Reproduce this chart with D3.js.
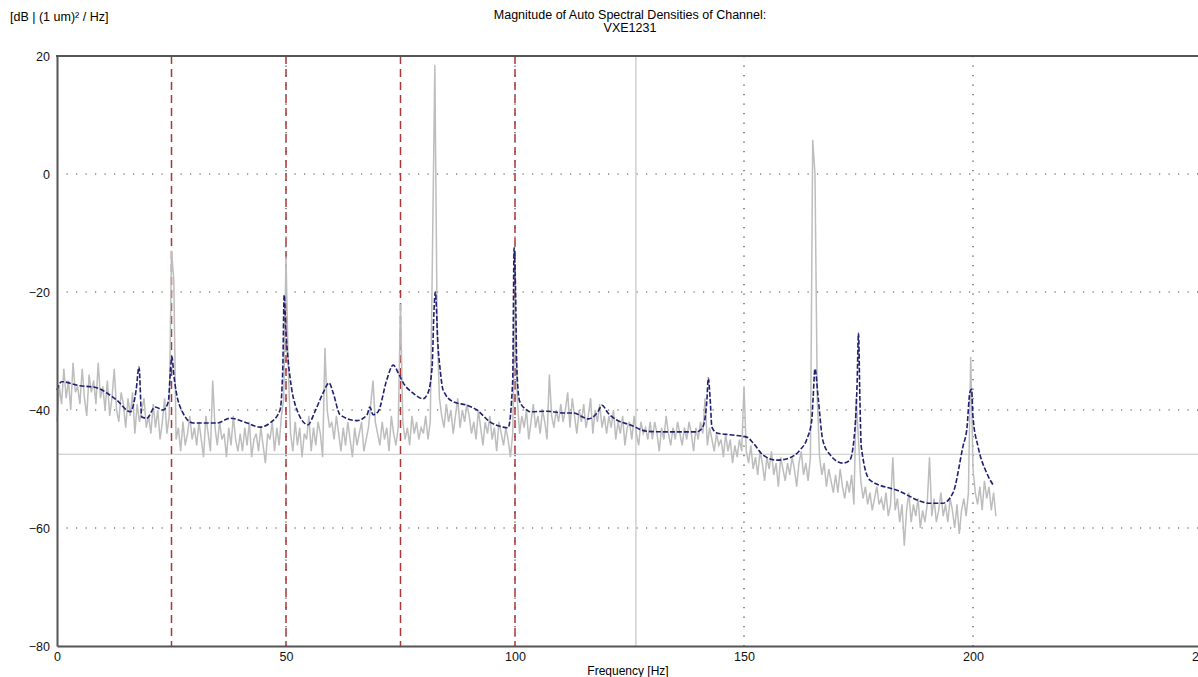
<!DOCTYPE html>
<html>
<head>
<meta charset="utf-8">
<script src="https://cdnjs.cloudflare.com/ajax/libs/d3/7.8.5/d3.min.js"></script>
<style>
  body { margin: 0; background: #fff; }
  svg { display: block; font-family: "Liberation Sans", Arial, sans-serif; }
</style>
</head>
<body>
<div class="spectrum-chart"></div>
<script>
// Tick labels
var xTicks = [0, 50, 100, 150, 200, 250];
var yTicks = [20, 0, -20, -40, -60, -80];
var gridDb = [0, -20, -40, -60];
var gridFreq = [50, 100, 150, 200, 250];

// Harmonic markers (red dashed) and cursor position (grey)
var harmonicFreq = [25, 50, 75, 100];
var cursorFreq = 126.4;
var cursorDb = -47.5;

// Measured spectrum (grey), sampled every 0.5 Hz from 0 Hz
var freqStep = 0.5;
var measuredDb = [].concat(
  [-42, -36, -39, -33, -38, -35, -40, -32, -37, -36, -39, -33, -38, -41, -34, -37, -35, -39, -32, -38],
  [-36, -40, -35, -41, -38, -33, -40, -42, -37, -39, -43, -38, -41, -37, -44, -39, -42, -40, -38, -43],
  [-41, -44, -39, -43, -40, -45, -42, -38, -44, -41, -13, -18, -45, -43, -47, -42, -46, -44, -41, -45],
  [-43, -46, -42, -45, -48, -41, -44, -47, -35, -43, -46, -42, -45, -44, -48, -43, -46, -41, -45, -47],
  [-44, -47, -43, -46, -42, -48, -45, -44, -47, -43, -46, -49, -44, -45, -42, -47, -43, -46, -41, -38],
  [-14, -33, -44, -47, -42, -46, -43, -48, -44, -45, -41, -47, -43, -46, -42, -44, -48, -29.5, -40, -43],
  [-42, -45, -41, -44, -47, -43, -46, -42, -45, -48, -43, -46, -44, -42, -47, -45, -43, -39, -35, -42],
  [-44, -46, -42, -45, -43, -47, -41, -44, -46, -43, -22, -42, -45, -43, -46, -41, -44, -42, -45, -43],
  [-44, -41, -45, -42, -12, 18.5, -26, -38, -41, -43, -39, -42, -40, -44, -41, -38, -43, -40, -42, -39],
  [-41, -44, -42, -45, -40, -43, -46, -42, -44, -41, -45, -43, -47, -42, -44, -46, -43, -45, -48, -44],
  [-21, -38, -44, -41, -43, -40, -45, -42, -39, -43, -41, -44, -40, -42, -45, -34, -41, -43, -40, -42],
  [-39, -42, -40, -37, -43, -38, -41, -44, -40, -42, -39, -43, -41, -38, -44, -40, -42, -39, -43, -41],
  [-44, -41, -43, -40, -45, -42, -44, -41, -46, -43, -42, -45, -41, -44, -46, -42, -44, -43, -45, -42],
  [-45, -42, -44, -47, -43, -45, -41, -44, -46, -43, -45, -42, -44, -46, -43, -45, -42, -44, -47, -43],
  [-45, -42, -44, -38, -46, -43, -45, -47, -44, -46, -45, -48, -44, -47, -45, -49, -46, -48, -45, -47],
  [-36, -47, -49, -46, -50, -48, -51, -47, -49, -52, -48, -50, -47, -51, -49, -53, -48, -50, -52, -49],
  [-51, -48, -50, -53, -49, -47, -51, -49, -52, -48, 5.8, 0, -38, -48, -51, -49, -53, -50, -52, -54],
  [-51, -54, -50, -53, -55, -52, -54, -51, -56, -38, -45, -52, -55, -53, -56, -54, -57, -55, -53, -56],
  [-55, -57, -54, -58, -56, -48, -57, -55, -59, -56, -63, -57, -54, -59, -56, -58, -55, -60, -57, -59],
  [-56, -48, -58, -55, -59, -57, -54, -58, -56, -59, -55, -57, -60, -56, -61, -57, -55, -58, -54, -31],
  [-50, -54, -56, -53, -57, -52, -55, -53, -57, -54, -58]
);

// Fitted spectrum (blue), read at irregular frequencies
var fitFreq = [0, 1, 5, 8, 13, 16, 17.3, 17.9, 18.5, 19.6, 21.4, 23.2, 24.3, 24.8, 25.1, 25.5, 25.8, 27.5, 29.7,
  34.9, 37.8, 41.5, 44.3, 46.5, 48.7, 49.3, 49.6, 50, 50.4, 50.9, 52.4, 54.8, 56.3, 58.1, 59.4, 60.3, 61.8,
  65.5, 67.7, 68.3, 69, 70.1, 72, 73.4, 74.5, 75.6, 77.7, 79.9, 81, 81.9, 82.3, 82.6, 83.2, 83.6, 84.3, 86.5,
  89.5, 91.7, 94.5, 97.4, 98.5, 99.5, 99.8, 100.1, 100.4, 101, 102.6, 103.3, 107, 110.5, 112.7, 116, 118.1,
  119, 120.3, 122.2, 125.1, 128.8, 132.3, 136, 139.7, 141, 141.9, 142.2, 142.6, 143, 144.1, 147, 150.6, 152,
  154.1, 157.2, 160, 162.2, 163.8, 164.8, 165.1, 165.5, 166.2, 167.2, 168.8, 171.6, 173.1, 174.2, 174.7, 175,
  175.3, 175.6, 177.5, 183.4, 190.6, 193.4, 195.6, 197.8, 198.7, 199.3, 199.7, 200, 201.1, 203, 204.4];
var fitDb = [-36.6, -35.2, -35.9, -36.1, -38.3, -40.3, -36.5, -32.7, -41.2, -41.4, -39.5, -40, -38.6, -33, -31, -34, -35.8, -40.5, -42.2,
  -42.2, -41.4, -42.2, -42.9, -42.2, -40, -33, -20.5, -27, -31, -34.6, -40, -42.5, -40.3, -37.1, -35.4, -37.1, -40.8,
  -41.8, -40.8, -39.5, -40.8, -40.3, -34.9, -32.4, -33.7, -35.4, -37.1, -38.1, -37.1, -32.7, -23.4, -20, -29.3, -32.7, -36.6, -38.6,
  -39.2, -40, -42, -42.9, -43, -35, -12.5, -19, -33, -38.5, -40, -40.3, -40.2, -40.5, -40.5, -41.5, -40.3,
  -39.2, -40.5, -41.7, -42.5, -43.6, -43.7, -43.7, -43.7, -42.9, -38.3, -34.6, -38, -42.9, -43.9, -44.2, -44.6, -45.6,
  -47.6, -48.5, -48.1, -46.8, -44.8, -41.7, -37.8, -33, -38, -45.1, -47.6, -49, -48.5, -43.4, -35.4, -27,
  -38, -46.2, -51.9, -53.6, -55.8, -55.8, -54.1, -46.2, -42.9, -37.1, -36.5, -41.2, -46.2, -50.7, -52.7];

drawSpectrum(d3.select(".spectrum-chart"));

function drawSpectrum(divElement) {
  var width = 1198, height = 677;
  // Plot frame; the 250 Hz end runs just past the window
  var margin = { top: 56, left: 57, bottom: 31 };
  var plotRight = 1202;

  var svg = divElement.append("svg")
    .attr("width", width)
    .attr("height", height);

  var xScale = d3.scaleLinear().domain([0, 250]).range([margin.left, plotRight]);
  var yScale = d3.scaleLinear().domain([-80, 20]).range([height - margin.bottom, margin.top]);

  var measured = measuredDb.map((v, i) => ({ f: i * freqStep, db: v }));
  var fitted = fitFreq.map((f, i) => ({ f: f, db: fitDb[i] }));

  // Dotted grid
  svg.append("g").selectAll("line")
    .data(gridDb)
    .enter().append("line")
    .attr("x1", margin.left).attr("x2", width)
    .attr("y1", d => yScale(d)).attr("y2", d => yScale(d))
    .attr("stroke", "#444").attr("stroke-width", 1.2)
    .attr("stroke-dasharray", "1.2,8.3");
  svg.append("g").selectAll("line")
    .data(gridFreq)
    .enter().append("line")
    .attr("x1", d => xScale(d)).attr("x2", d => xScale(d))
    .attr("y1", yScale(20)).attr("y2", yScale(-80))
    .attr("stroke", "#444").attr("stroke-width", 1.2)
    .attr("stroke-dasharray", "1.2,8.3");

  // Cursor lines
  svg.append("line")
    .attr("x1", margin.left).attr("x2", width)
    .attr("y1", yScale(cursorDb)).attr("y2", yScale(cursorDb))
    .attr("stroke", "#c4c4c4").attr("stroke-width", 1.2);
  svg.append("line")
    .attr("x1", xScale(cursorFreq)).attr("x2", xScale(cursorFreq))
    .attr("y1", yScale(20)).attr("y2", yScale(-80))
    .attr("stroke", "#c4c4c4").attr("stroke-width", 1.2);

  // Harmonic markers
  svg.append("g").selectAll("line")
    .data(harmonicFreq)
    .enter().append("line")
    .attr("x1", d => xScale(d)).attr("x2", d => xScale(d))
    .attr("y1", yScale(20)).attr("y2", yScale(-80))
    .attr("stroke", "#a83838").attr("stroke-width", 1.5)
    .attr("stroke-dasharray", "8,5");

  // Measured spectrum
  svg.append("path")
    .datum(measured)
    .attr("fill", "none")
    .attr("stroke", "#bdbdbd")
    .attr("stroke-width", 1.5)
    .attr("d", d3.line().x(d => xScale(d.f)).y(d => yScale(d.db)));

  // Fitted spectrum
  svg.append("path")
    .datum(fitted)
    .attr("fill", "none")
    .attr("stroke", "#1f2070")
    .attr("stroke-width", 1.6)
    .attr("stroke-dasharray", "5,2")
    .attr("d", d3.line().curve(d3.curveMonotoneX).x(d => xScale(d.f)).y(d => yScale(d.db)));

  // Axes
  var yAxis = svg.append("g")
    .attr("transform", "translate(" + margin.left + ",0)")
    .call(d3.axisLeft(yScale).tickValues(yTicks).tickSize(0).tickPadding(7));
  var xAxis = svg.append("g")
    .attr("transform", "translate(0," + yScale(-80) + ")")
    .call(d3.axisBottom(xScale).tickValues(xTicks).tickSize(0).tickPadding(6));
  [xAxis, yAxis].forEach(function(ax) {
    ax.select(".domain").attr("stroke", "#555").attr("stroke-width", 2);
    ax.selectAll(".tick text")
      .attr("fill", "#111")
      .style("font-family", "Liberation Sans, Arial, sans-serif")
      .style("font-size", "12.5px");
  });

  // Top frame line
  svg.append("line")
    .attr("x1", margin.left - 1).attr("x2", width)
    .attr("y1", yScale(20)).attr("y2", yScale(20))
    .attr("stroke", "#555").attr("stroke-width", 2);

  // Texts
  svg.append("text")
    .attr("x", 10).attr("y", 21)
    .style("font-size", "12.5px")
    .text("[dB | (1 um)\u00b2 / Hz]");
  svg.append("text")
    .attr("x", 630).attr("y", 19)
    .attr("text-anchor", "middle")
    .style("font-size", "12.5px")
    .text("Magnitude of Auto Spectral Densities of Channel:");
  svg.append("text")
    .attr("x", 630).attr("y", 32)
    .attr("text-anchor", "middle")
    .style("font-size", "12.5px")
    .text("VXE1231");
  svg.append("text")
    .attr("x", 628).attr("y", 675)
    .attr("text-anchor", "middle")
    .style("font-size", "12px")
    .text("Frequency [Hz]");
}
</script>
</body>
</html>
